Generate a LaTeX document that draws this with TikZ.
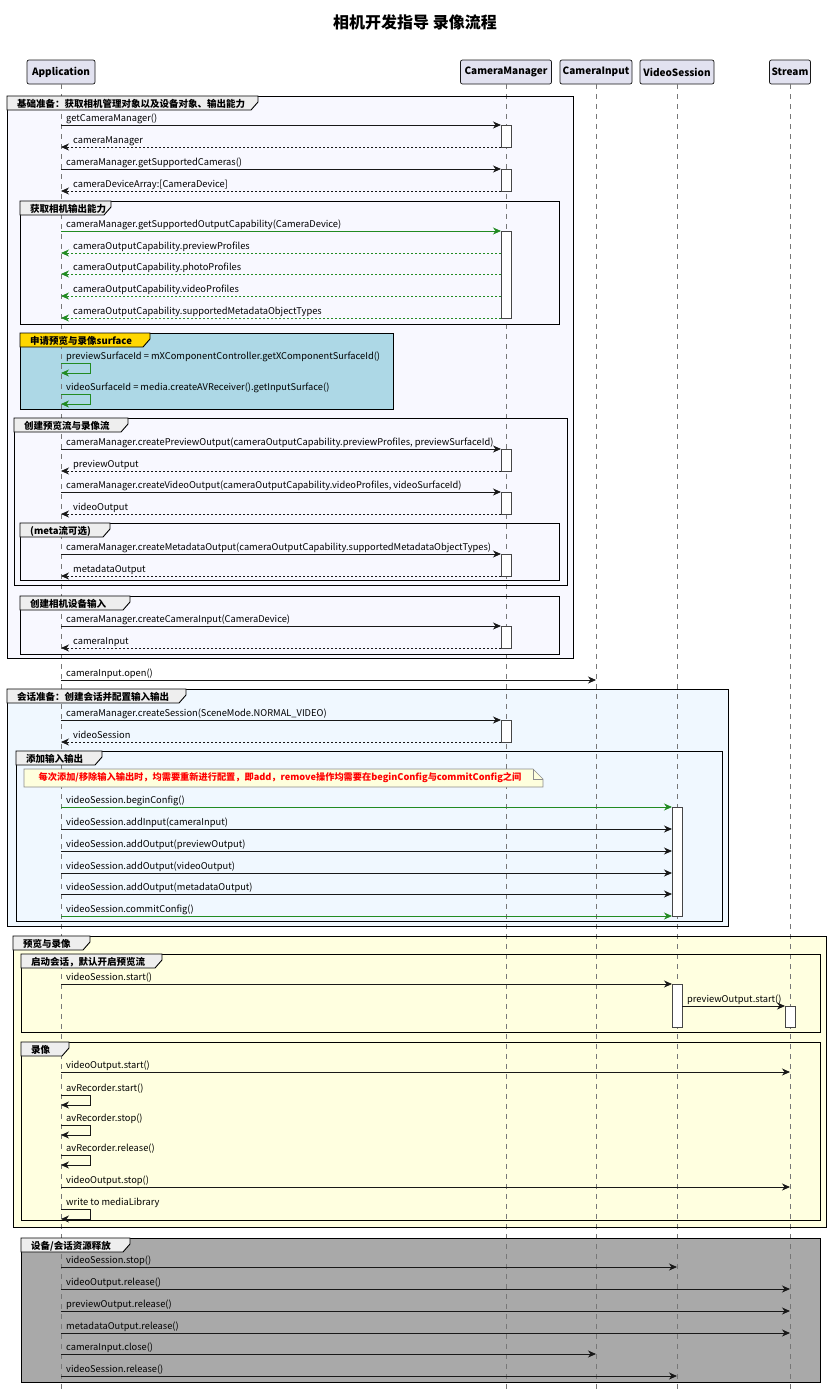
\documentclass[tikz,border=0pt]{standalone}
\usepackage{fontspec}
\setmainfont{Noto Sans CJK SC}
\usetikzlibrary{arrows.meta,calc}
\definecolor{linec}{HTML}{181818}
\definecolor{grn}{HTML}{228B22}
\definecolor{partfill}{HTML}{E2E2F0}
\definecolor{tabgray}{HTML}{EEEEEE}
\definecolor{ghost}{HTML}{F8F8FF}
\definecolor{alice}{HTML}{F0F8FF}
\definecolor{lyellow}{HTML}{FFFFE0}
\definecolor{dgray}{HTML}{A9A9A9}
\definecolor{lblue}{HTML}{ADD8E6}
\definecolor{gold}{HTML}{FFD700}
\definecolor{notefill}{HTML}{FEFFDD}
\definecolor{lifec}{HTML}{777777}
\tikzset{
  lbl/.style={anchor=base west, inner sep=0pt, font=\fontsize{9.3}{11}\selectfont},
  glbl/.style={anchor=base west, inner sep=0pt, font=\bfseries\fontsize{9.5}{11}\selectfont},
  msgline/.style={draw=linec, line width=0.8pt, -{Stealth[length=8pt,width=7pt,inset=2.5pt]}},
  retline/.style={msgline, dash pattern=on 2pt off 2pt},
  gmsg/.style={msgline, draw=grn},
  gret/.style={retline, draw=grn},
  actbox/.style={draw=linec!80, fill=white, line width=0.8pt},
  frame/.style={draw=black, line width=1pt},
  tabshape/.style={draw=black, line width=0.9pt},
  part/.style={draw=linec, fill=partfill, rounded corners=2pt, line width=0.7pt, inner sep=0pt,
    minimum height=24pt, font=\bfseries\fontsize{10}{12}\selectfont},
  life/.style={draw=lifec, line width=0.7pt, dash pattern=on 5pt off 5pt},
}
\newcommand\mcall[6]{%
  \coordinate (#1a) at (#3,#2);
  \coordinate (#1b) at (#4,#2);
  \draw[#5] (#1a) -- (#1b);
  \node[lbl] (#1t) at ([xshift=5pt,yshift=3.5pt]#1a) {#6};}
\newcommand\mret[6]{%
  \coordinate (#1a) at (#3,#2);
  \coordinate (#1b) at (#4,#2);
  \draw[#5] (#1a) -- (#1b);
  \node[lbl] (#1t) at ([xshift=12pt,yshift=3.5pt]#1b) {#6};}
\newcommand\mself[4]{%
  \coordinate (#1a) at (61,#2);
  \coordinate (#1c) at (61,#2+10);
  \draw[#3] (#1a) -- ++(29,0) -- ++(0,10) -- (#1c);
  \node[lbl] (#1t) at ([xshift=5pt,yshift=3.5pt]#1a) {#4};}
\newcommand\actv[4]{%
  \draw[actbox] (#2-5,#3) rectangle (#2+5,#4);
  \coordinate (#1) at (#2,#3);}
\newcommand\grp[8]{%
  \draw[frame] (#2,#3) rectangle (#4,#5);
  \draw[tabshape, fill=#7] (#2,#3) -- (#6,#3) -- (#6,#3+6) -- (#6-7,#3+14) -- (#2,#3+14) -- cycle;
  \node[glbl] (#1) at (#2+10,#3+11) {#8};}
\begin{document}
\begin{tikzpicture}[x=1pt,y=-1pt]
\useasboundingbox[fill=white] (0,0) rectangle (830,1398);
% title
\node[font=\bfseries\fontsize{16}{19}\selectfont] (title) at (415,22) {相机开发指导 录像流程};
% group fills
\fill[ghost] (7,96) rectangle (573,658);
\fill[lblue] (20,333) rectangle (393,409);
\fill[alice] (7,689) rectangle (728,926);
\fill[lyellow] (13,936) rectangle (826,1227);
\fill[dgray] (21,1238) rectangle (820,1382);
% participants
\node[part, minimum width=68pt] (app) at (61,72) {Application};
\node[part, minimum width=91pt] (cm) at (506,72) {CameraManager};
\node[part, minimum width=72pt] (ci) at (596,72) {CameraInput};
\node[part, minimum width=74pt] (vs) at (677,72) {VideoSession};
\node[part, minimum width=41pt] (st) at (790,72) {Stream};
\coordinate (appE) at (61,1390);
\coordinate (cmE) at (506,1390);
\coordinate (ciE) at (596,1390);
\coordinate (vsE) at (677,1390);
\coordinate (stE) at (790,1390);
\draw[life] (app.south) -- (appE);
\draw[life] (cm.south) -- (cmE);
\draw[life] (ci.south) -- (ciE);
\draw[life] (vs.south) -- (vsE);
\draw[life] (st.south) -- (stE);
% group frames
\grp{g1}{7}{96}{573}{658}{258}{tabgray}{基础准备：获取相机管理对象以及设备对象、输出能力}
\grp{g1a}{20}{201}{559}{324}{111}{tabgray}{获取相机输出能力}
\grp{g1b}{20}{333}{393}{409}{150}{gold}{申请预览与录像surface}
\grp{g1c}{14}{418}{567}{585}{128}{tabgray}{创建预览流与录像流}
\grp{g1d}{20}{523}{559}{580}{110}{tabgray}{(meta流可选)}
\grp{g1e}{20}{596}{559}{654}{130}{tabgray}{创建相机设备输入}
\grp{g2}{7}{689}{728}{926}{186}{tabgray}{会话准备：创建会话并配置输入输出}
\grp{g2a}{16}{751}{722}{921}{102}{tabgray}{添加输入输出}
\grp{g3}{13}{936}{826}{1227}{90}{tabgray}{预览与录像}
\grp{g3a}{21}{954}{820}{1032}{162}{tabgray}{启动会话，默认开启预览流}
\grp{g3b}{21}{1042}{820}{1220}{69}{tabgray}{录像}
\grp{g4}{21}{1238}{820}{1382}{130}{tabgray}{设备/会话资源释放}
% note
\draw[draw=black!45, fill=notefill, line width=0.6pt] (24,769) -- (533,769) -- (543,779) -- (543,787) -- (24,787) -- cycle;
\draw[draw=black!45, line width=0.6pt] (533,769) -- (533,779) -- (543,779);
\node[inner sep=0pt, text=red, font=\bfseries\fontsize{9.2}{11}\selectfont] (note) at (280,778) {每次添加/移除输入输出时，均需要重新进行配置，即add，remove操作均需要在beginConfig与commitConfig之间};
% activations
\actv{a1}{506}{125}{147}
\actv{a2}{506}{169}{191}
\actv{a3}{506}{231}{318}
\actv{a4}{506}{449}{471}
\actv{a5}{506}{492}{514}
\actv{a6}{506}{554}{576}
\actv{a7}{506}{626}{648}
\actv{a8}{506}{720}{742}
\actv{a9}{677}{807}{916}
\actv{a10}{677}{984}{1027}
\actv{a11}{790}{1006}{1027}
% messages
\mcall{m1}{125}{61}{501}{msgline}{getCameraManager()}
\mret{r1}{147}{501}{61}{retline}{cameraManager}
\mcall{m2}{169}{61}{501}{msgline}{cameraManager.getSupportedCameras()}
\mret{r2}{191}{501}{61}{retline}{cameraDeviceArray:[CameraDevice]}
\mcall{m3}{231}{61}{501}{gmsg}{cameraManager.getSupportedOutputCapability(CameraDevice)}
\mret{r3}{253}{501}{61}{gret}{cameraOutputCapability.previewProfiles}
\mret{r4}{274}{501}{61}{gret}{cameraOutputCapability.photoProfiles}
\mret{r5}{296}{501}{61}{gret}{cameraOutputCapability.videoProfiles}
\mret{r6}{318}{501}{61}{gret}{cameraOutputCapability.supportedMetadataObjectTypes}
\mself{s1}{363}{gmsg}{previewSurfaceId = mXComponentController.getXComponentSurfaceId()}
\mself{s2}{394}{gmsg}{videoSurfaceId = media.createAVReceiver().getInputSurface()}
\mcall{m4}{449}{61}{501}{msgline}{cameraManager.createPreviewOutput(cameraOutputCapability.previewProfiles, previewSurfaceId)}
\mret{r7}{471}{501}{61}{retline}{previewOutput}
\mcall{m5}{492}{61}{501}{msgline}{cameraManager.createVideoOutput(cameraOutputCapability.videoProfiles, videoSurfaceId)}
\mret{r8}{514}{501}{61}{retline}{videoOutput}
\mcall{m6}{554}{61}{501}{msgline}{cameraManager.createMetadataOutput(cameraOutputCapability.supportedMetadataObjectTypes)}
\mret{r9}{576}{501}{61}{retline}{metadataOutput}
\mcall{m7}{626}{61}{501}{msgline}{cameraManager.createCameraInput(CameraDevice)}
\mret{r10}{648}{501}{61}{retline}{cameraInput}
\mcall{m8}{680}{61}{596}{msgline}{cameraInput.open()}
\mcall{m9}{720}{61}{501}{msgline}{cameraManager.createSession(SceneMode.NORMAL\_VIDEO)}
\mret{r11}{742}{501}{61}{retline}{videoSession}
\mcall{m10}{807}{61}{672}{gmsg}{videoSession.beginConfig()}
\mcall{m11}{829}{61}{672}{msgline}{videoSession.addInput(cameraInput)}
\mcall{m12}{851}{61}{672}{msgline}{videoSession.addOutput(previewOutput)}
\mcall{m13}{873}{61}{672}{msgline}{videoSession.addOutput(videoOutput)}
\mcall{m14}{894}{61}{672}{msgline}{videoSession.addOutput(metadataOutput)}
\mcall{m15}{916}{61}{672}{gmsg}{videoSession.commitConfig()}
\mcall{m16}{984}{61}{672}{msgline}{videoSession.start()}
\mcall{m17}{1006}{682}{785}{msgline}{previewOutput.start()}
\mcall{m18}{1072}{61}{790}{msgline}{videoOutput.start()}
\mself{s3}{1095}{msgline}{avRecorder.start()}
\mself{s4}{1125}{msgline}{avRecorder.stop()}
\mself{s5}{1155}{msgline}{avRecorder.release()}
\mcall{m19}{1187}{61}{790}{msgline}{videoOutput.stop()}
\mself{s6}{1209}{msgline}{write to mediaLibrary}
\mcall{m20}{1267}{61}{677}{msgline}{videoSession.stop()}
\mcall{m21}{1289}{61}{790}{msgline}{videoOutput.release()}
\mcall{m22}{1311}{61}{790}{msgline}{previewOutput.release()}
\mcall{m23}{1333}{61}{790}{msgline}{metadataOutput.release()}
\mcall{m24}{1354}{61}{596}{msgline}{cameraInput.close()}
\mcall{m25}{1376}{61}{677}{msgline}{videoSession.release()}
\end{tikzpicture}
\end{document}
